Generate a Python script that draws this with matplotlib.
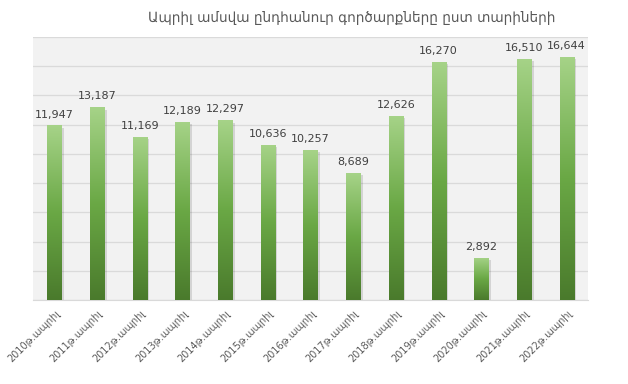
import matplotlib
matplotlib.use("Agg")
import matplotlib.pyplot as plt
import numpy as np
from matplotlib.colors import LinearSegmentedColormap
from matplotlib.patches import Rectangle

years = [str(y) for y in range(2010, 2023)]
categories = [y + "թ.ապրիլ" for y in years]
values = [11947, 13187, 11169, 12189, 12297, 10636, 10257, 8689, 12626, 16270, 2892, 16510, 16644]
title = "Ապրիլ ամսվա ընդհանուր գործարքները ըստ տարիների"

plt.rcParams['font.family'] = ['DejaVu Sans']

fig = plt.figure(figsize=(6.28, 3.84), dpi=100)
ax = fig.add_axes([33/628, 1 - 300/384, (588-33)/628, (300-37)/384])
ax.set_facecolor('#f2f2f2')
ax.set_xlim(-0.5, len(values) - 0.5)
ax.set_ylim(0, 18000)
ax.set_yticks(np.arange(0, 18001, 2000))
ax.yaxis.grid(True, color='#dadada', lw=0.9)
ax.set_axisbelow(True)
ax.tick_params(axis='y', left=False, labelleft=False)
for s in ['top', 'right', 'left']:
    ax.spines[s].set_visible(False)
ax.spines['bottom'].set_color('#d9d9d9')

cmap = LinearSegmentedColormap.from_list('g', ['#4a7a2c', '#6aa845', '#a6d388'])
grad = np.linspace(0, 1, 256).reshape(-1, 1)
w = 0.33
x = np.arange(len(values))
for i, v in enumerate(values):
    sh = Rectangle((i - w/2 + 0.06, 0), w, v - 150, facecolor='#000000', alpha=0.12, lw=0, zorder=2)
    ax.add_patch(sh)
    r = Rectangle((i - w/2, 0), w, v, facecolor='none', lw=0, zorder=3)
    ax.add_patch(r)
    im = ax.imshow(grad, extent=(i - w/2, i + w/2, 0, v), origin='lower', cmap=cmap,
                   aspect='auto', zorder=3)
    im.set_clip_path(r)
    ax.text(i, v + 400, f"{v:,}", ha='center', va='bottom', fontsize=8, color='#404040', zorder=4)

ax.set_xlim(-0.5, len(values) - 0.5)
ax.set_ylim(0, 18000)
ax.set_xticks(x)
ax.set_xticklabels(categories, rotation=45, ha='right', rotation_mode='anchor',
                   fontsize=7, color='#595959')
ax.tick_params(axis='x', length=0, pad=6)

fig.text(352/628, 1 - 18/384, title, ha='center', va='center', fontsize=9.8, color='#595959')

fig.savefig('out.png', dpi=100)
